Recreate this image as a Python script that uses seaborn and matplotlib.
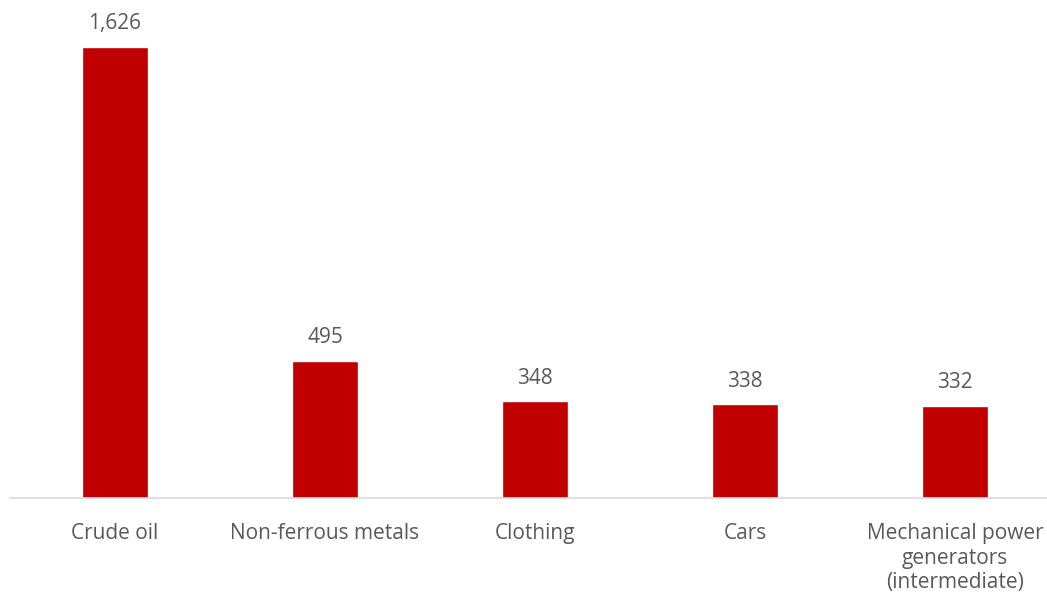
import matplotlib
matplotlib.use("Agg")
import matplotlib.pyplot as plt
import seaborn as sns
import pandas as pd

categories = ["Crude oil", "Non-ferrous metals", "Clothing", "Cars",
              "Mechanical power\ngenerators\n(intermediate)"]
values = [1626, 495, 348, 338, 332]
value_labels = ["1,626", "495", "348", "338", "332"]

sns.set_theme(style="white")
plt.rcParams['font.family'] = ['Open Sans', 'DejaVu Sans']

df = pd.DataFrame({"category": categories, "value": values})

fig = plt.figure(figsize=(10.47, 6.0), dpi=100)
ax = fig.add_axes([10/1047, 1 - 498/600, 1050/1047, 488/600])
sns.barplot(data=df, x="category", y="value", color="#C00000", width=0.314,
            saturation=1, ax=ax)
ax.set_ylim(0, 1759)
ax.set_xlim(-0.5, 4.5)
ax.set_xlabel("")
ax.set_ylabel("")
ax.set_yticks([])
for s in ["top", "right", "left"]:
    ax.spines[s].set_visible(False)
ax.spines["bottom"].set_color("#D9D9D9")
ax.spines["bottom"].set_linewidth(1.2)
ax.tick_params(axis="x", length=0, pad=18, labelsize=15, colors="#595959")
for lbl in ax.get_xticklabels():
    lbl.set_linespacing(1.22)
    lbl.set_verticalalignment("top")
for i, (v, t) in enumerate(zip(values, value_labels)):
    ax.annotate(t, (i, v), xytext=(0, 9), textcoords="offset points",
                ha="center", va="bottom", fontsize=15, color="#595959")

fig.savefig("out.png", dpi=100)
